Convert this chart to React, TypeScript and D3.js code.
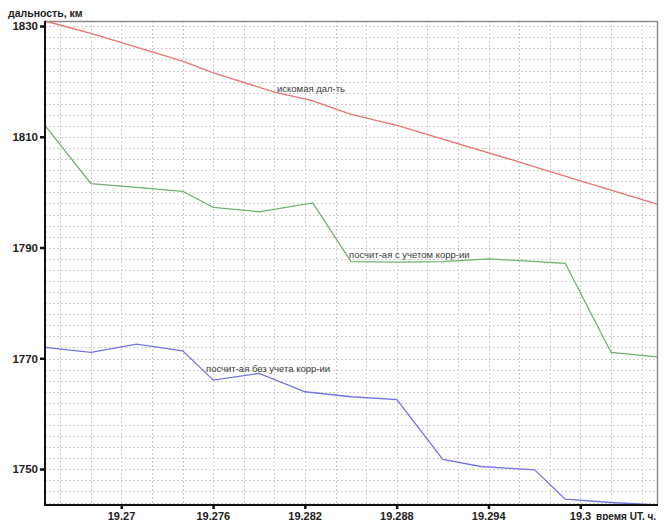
import React from "react";
import * as d3 from "d3";

// Time axis (UT hours) and range values (km) for each curve
const targetTime = [19.265, 19.268, 19.274, 19.276, 19.28, 19.2824, 19.285, 19.288, 19.2955, 19.297, 19.305];
const targetRange = [1830.95, 1828.7, 1823.7, 1821.6, 1818.1, 1816.6, 1814.1, 1812.1, 1805.9, 1804.6, 1797.9];

const corrTime = [19.265, 19.268, 19.271, 19.274, 19.276, 19.279, 19.2825, 19.285, 19.288, 19.291, 19.294, 19.299, 19.302, 19.305];
const corrRange = [1812.1, 1801.6, 1800.9, 1800.2, 1797.3, 1796.5, 1798.1, 1787.5, 1787.4, 1787.5, 1788.0, 1787.2, 1771.1, 1770.3];

const rawTime = [19.265, 19.268, 19.271, 19.274, 19.276, 19.279, 19.282, 19.285, 19.288, 19.291, 19.2935, 19.297, 19.299, 19.302, 19.305];
const rawRange = [1772.0, 1771.1, 1772.6, 1771.4, 1766.1, 1767.3, 1764.0, 1763.1, 1762.6, 1751.8, 1750.5, 1749.9, 1744.6, 1744.0, 1743.55];

const xTicks = [19.27, 19.276, 19.282, 19.288, 19.294, 19.3];
const yTicks = [1750, 1770, 1790, 1810, 1830];

const seriesLabels = ["искомая дал-ть", "посчит-ая с учетом корр-ии", "посчит-ая без учета корр-ии"];
const yTitle = "дальность, км";
const xTitle = "время UT, ч.";

const W = 666;
const H = 520;
const M = { left: 45, right: 9, top: 21, bottom: 15 };

export default function App() {
  const x = d3.scaleLinear().domain([19.265, 19.305]).range([M.left, W - M.right]);
  const allValues = [...targetRange, ...corrRange, ...rawRange];
  const yDomain = d3.extent(allValues) as [number, number];
  const y = d3.scaleLinear().domain(yDomain).range([H - M.bottom, M.top]);

  const line = (ts: number[], vs: number[]) =>
    d3.line<number>().x((_, i) => x(ts[i])).y((v) => y(v))(vs) || "";

  const gridX = d3.range(19.266, 19.3045, 0.002);
  const gridY = d3.range(1744, 1831, 2);

  const x0 = M.left;
  const x1 = W - M.right;
  const y0 = H - M.bottom;
  const y1 = M.top;

  const fmtX = (d: number) => String(+d.toFixed(3));

  const labelFont = "'Liberation Sans', Arial, sans-serif";

  return (
    <svg
      width={W}
      height={H}
      style={{ position: "absolute", left: 0, top: 0, background: "#fff" }}
    >
      <rect x={0} y={0} width={W} height={H} fill="#fff" />
      {/* dotted grid */}
      <g stroke="#cfcfcf" strokeWidth={1} strokeDasharray="2 2">
        {gridX.map((g, i) => (
          <line key={"gx" + i} x1={Math.round(x(g)) + 0.5} x2={Math.round(x(g)) + 0.5} y1={y1} y2={y0} />
        ))}
        {gridY.map((g, i) => (
          <line key={"gy" + i} x1={x0} x2={x1} y1={Math.round(y(g)) + 0.5} y2={Math.round(y(g)) + 0.5} />
        ))}
      </g>
      {/* frame */}
      <line x1={x0} x2={x1} y1={y1 + 0.5} y2={y1 + 0.5} stroke="#8c8c8c" strokeWidth={1.5} />
      <line x1={x1 + 0.5} x2={x1 + 0.5} y1={y1} y2={y0} stroke="#8c8c8c" strokeWidth={1.5} />

      {/* curves */}
      <path d={line(targetTime, targetRange)} fill="none" stroke="#ec7272" strokeWidth={1.3} />
      <path d={line(corrTime, corrRange)} fill="none" stroke="#6fb06f" strokeWidth={1.3} />
      <path d={line(rawTime, rawRange)} fill="none" stroke="#7474e8" strokeWidth={1.3} />

      {/* curve captions */}
      <g fontFamily={labelFont} fontSize={9.5} fill="#3a3a3a">
        <text x={277} y={92}>{seriesLabels[0]}</text>
        <text x={349} y={258}>{seriesLabels[1]}</text>
        <text x={206} y={372}>{seriesLabels[2]}</text>
      </g>

      {/* axes */}
      <line x1={x0} x2={x0} y1={y1} y2={y0 + 1} stroke="#111" strokeWidth={2} />
      <line x1={x0 - 1} x2={x1 + 1} y1={y0} y2={y0} stroke="#111" strokeWidth={2} />

      <g fontFamily={labelFont} fontWeight="bold" fill="#222">
        {yTicks.map((t) => (
          <g key={"yt" + t}>
            <rect x={x0 - 5} y={y(t) - 1} width={5} height={2.5} fill="#111" />
            <text x={x0 - 7} y={y(t) + 4.2} textAnchor="end" fontSize={11.5}>{t}</text>
          </g>
        ))}
        {xTicks.map((t) => (
          <g key={"xt" + t}>
            <rect x={x(t) - 1} y={y0} width={2.5} height={4} fill="#111" />
            <text x={x(t)} y={519.5} textAnchor="middle" fontSize={11}>{fmtX(t)}</text>
          </g>
        ))}
      </g>
      <text x={8} y={17} fontFamily={labelFont} fontWeight="bold" fontSize={10.5} fill="#222">
        {yTitle}
      </text>
      <text x={596} y={519.5} fontFamily={labelFont} fontWeight="bold" fontSize={10} fill="#222">
        {xTitle}
      </text>
    </svg>
  );
}
